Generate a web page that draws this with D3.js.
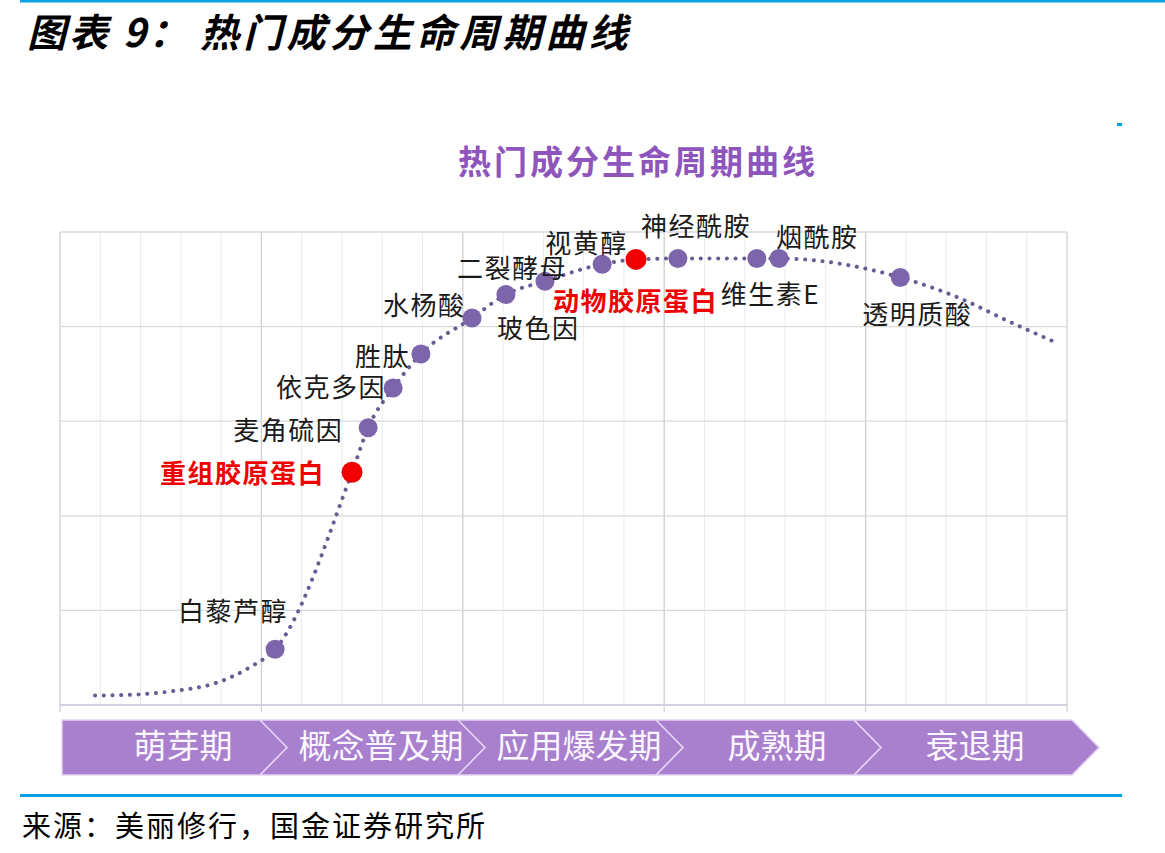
<!DOCTYPE html>
<html>
<head>
<meta charset="utf-8">
<script src="https://cdn.jsdelivr.net/npm/d3@7/dist/d3.min.js"></script>
<style>
  html,body{margin:0;padding:0;background:#fff;}
  svg{display:block;font-family:"Noto Sans CJK SC","Noto Sans",sans-serif;}
</style>
</head>
<body>
<svg id="chart" width="1165" height="853"></svg>
<script>
// ingredient points: position along the lifecycle (x) and popularity (y)
const names=["白藜芦醇","重组胶原蛋白","麦角硫因","依克多因","胜肽","水杨酸","玻色因","二裂酵母","视黄醇","动物胶原蛋白","神经酰胺","维生素E","烟酰胺","透明质酸"];
const xs=[5.34,7.25,7.65,8.27,8.96,10.23,11.07,12.04,13.46,14.30,15.34,17.30,17.85,20.86];
const ys=[0.59,2.46,2.93,3.35,3.71,4.09,4.34,4.48,4.66,4.71,4.72,4.72,4.72,4.52];
const highlight=["重组胶原蛋白","动物胶原蛋白"];

// extra curve points before the first and after the last ingredient
const leadX=[0.87,1.86,2.86,3.85,4.72];
const leadY=[0.10,0.11,0.15,0.23,0.40];
const tailX=[22.34,23.58,24.63];
const tailY=[4.30,4.05,3.85];

const stages=["萌芽期","概念普及期","应用爆发期","成熟期","衰退期"];

// label placement relative to its point (left edge, baseline)
const labelPos={
  "白藜芦醇":[-97,-28],"重组胶原蛋白":[-192,11],"麦角硫因":[-135,12],"依克多因":[-117,9],
  "胜肽":[-66,12],"水杨酸":[-89,-3],"玻色因":[-9,44],"二裂酵母":[-88,-3],
  "视黄醇":[-57,-11],"动物胶原蛋白":[-83,52],"神经酰胺":[-37,-22],"维生素E":[-36,46],
  "烟酰胺":[-3,-11],"透明质酸":[-38,47]
};

const svg=d3.select("#chart");
const m={left:60,right:1067,top:232,bottom:705};

const x=d3.scaleLinear().domain([0,25]).range([m.left,m.right]);
const y=d3.scaleLinear().domain([0,5]).range([m.bottom,m.top]);

// page frame: blue rules, title, source
svg.append("rect").attr("x",20).attr("y",0).attr("width",1145).attr("height",2.5).attr("fill","#0aa0e6");
svg.append("text").attr("x",27).attr("y",47)
  .attr("font-size",39).attr("font-weight",700).attr("font-style","italic")
  .attr("letter-spacing",3).attr("fill","#000")
  .text("图表 9：");
svg.append("text").attr("x",200).attr("y",47)
  .attr("font-size",39).attr("font-weight",700).attr("font-style","italic")
  .attr("letter-spacing",4.2).attr("fill","#000")
  .text("热门成分生命周期曲线");
svg.append("rect").attr("x",1117).attr("y",123).attr("width",5).attr("height",3).attr("fill","#0aa0e6");

svg.append("rect").attr("x",20).attr("y",794).attr("width",1102).attr("height",3).attr("fill","#0aa0e6");
svg.append("text").attr("x",22).attr("y",837)
  .attr("font-size",29).attr("letter-spacing",2).attr("fill","#000")
  .text("来源：美丽修行，国金证券研究所");

// chart title
svg.append("text").attr("x",638).attr("y",174).attr("text-anchor","middle")
  .attr("font-size",33).attr("font-weight",700).attr("letter-spacing",3)
  .attr("fill","#8e55bd")
  .text("热门成分生命周期曲线");

// grid
const g=svg.append("g");
g.selectAll(".vminor").data(d3.range(0,26)).enter().append("line")
  .attr("x1",d=>x(d)).attr("x2",d=>x(d))
  .attr("y1",m.top).attr("y2",d=>d%5===0?m.bottom+7:m.bottom)
  .attr("stroke",d=>d%5===0?"#cfcfcf":"#ebebeb")
  .attr("stroke-width",d=>d%5===0?1.3:1);
g.selectAll(".hline").data(d3.range(0,6)).enter().append("line")
  .attr("x1",m.left).attr("x2",m.right)
  .attr("y1",d=>y(d)).attr("y2",d=>y(d))
  .attr("stroke",d=>d===0?"#d6cde0":"#dadada")
  .attr("stroke-width",d=>d===0?2:1.3);

// dotted lifecycle curve
const pts=leadX.map((d,i)=>[d,leadY[i]])
  .concat(xs.map((d,i)=>[d,ys[i]]))
  .concat(tailX.map((d,i)=>[d,tailY[i]]));
const line=d3.line().x(d=>x(d[0])).y(d=>y(d[1])).curve(d3.curveMonotoneX);
svg.append("path").datum(pts)
  .attr("d",line).attr("fill","none")
  .attr("stroke","#6a5b92").attr("stroke-width",4)
  .attr("stroke-linecap","round").attr("stroke-dasharray","0.1 8.6");

// ingredient points
const data=names.map((n,i)=>({name:n,x:xs[i],y:ys[i],hot:highlight.includes(n)}));
svg.selectAll(".pt").data(data).enter().append("circle")
  .attr("cx",d=>x(d.x)).attr("cy",d=>y(d.y))
  .attr("r",d=>d.hot?10.5:9.5)
  .attr("fill",d=>d.hot?"#f00000":"#7d65ab");

svg.selectAll(".lbl").data(data).enter().append("text")
  .attr("x",d=>x(d.x)+labelPos[d.name][0])
  .attr("y",d=>y(d.y)+labelPos[d.name][1])
  .attr("font-size",26)
  .attr("font-weight",d=>d.hot?700:400)
  .attr("letter-spacing",1.5)
  .attr("fill",d=>d.hot?"#f00000":"#1a1a1a")
  .text(d=>d.name);

// stage arrow band
const bandTop=720,bandBot=775,bandMid=(bandTop+bandBot)/2,tip=27;
const sb=d3.scaleBand().domain(stages).range([62,1052]);
const bandPath=d3.path();
bandPath.moveTo(62,bandTop);
bandPath.lineTo(1072,bandTop);
bandPath.lineTo(1072+tip,bandMid);
bandPath.lineTo(1072,bandBot);
bandPath.lineTo(62,bandBot);
bandPath.closePath();
svg.append("path").attr("d",bandPath.toString())
  .attr("fill","#a880ce").attr("stroke","#e4d2f3").attr("stroke-width",1.5);

svg.selectAll(".sep").data(stages.slice(1)).enter().append("path")
  .attr("d",d=>{
    const sx=sb(d);
    return `M${sx},${bandTop}L${sx+tip},${bandMid}L${sx},${bandBot}`;
  })
  .attr("fill","none").attr("stroke","#ead9f7").attr("stroke-width",1.6);

svg.selectAll(".stage").data(stages).enter().append("text")
  .attr("x",d=>sb(d)+sb.bandwidth()/2+22)
  .attr("y",758)
  .attr("text-anchor","middle")
  .attr("font-size",33)
  .attr("fill","#fbf6ff")
  .text(d=>d);
</script>
</body>
</html>
